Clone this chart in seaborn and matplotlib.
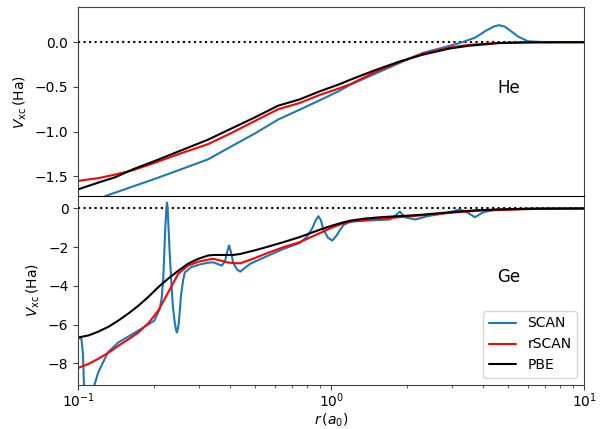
import numpy as np
import pandas as pd
import seaborn as sns
import matplotlib
matplotlib.use('Agg')
import matplotlib.pyplot as plt

# He values
r_he = [0.1, 0.12, 0.14, 0.165, 0.2, 0.25, 0.326, 0.4, 0.5, 0.617, 0.75, 0.9,
        1.067, 1.19, 1.5, 1.87, 2.3, 2.95, 3.5, 4.6, 6.0, 8.0, 10.0]
pbe_he = [-1.645, -1.57, -1.51, -1.42, -1.33, -1.22, -1.09, -0.97, -0.84, -0.71, -0.64, -0.55,
          -0.475, -0.42, -0.31, -0.215, -0.14, -0.07, -0.04, -0.01, -0.003, 0.0, 0.0]
rscan_he = [-1.55, -1.52, -1.48, -1.43, -1.35, -1.25, -1.14, -1.02, -0.88, -0.75, -0.68, -0.59,
            -0.52, -0.47, -0.33, -0.22, -0.13, -0.06, -0.03, -0.008, 0.0, 0.0, 0.0]
r_he_scan = [0.1, 0.131, 0.2, 0.25, 0.326, 0.4, 0.5, 0.617, 0.75, 0.9, 1.067, 1.19, 1.5,
             1.87, 2.3, 2.95, 3.3, 3.7, 4.1, 4.4, 4.6, 4.85, 5.1, 5.5, 6.0, 7.0, 10.0]
scan_he = [-1.86, -1.71, -1.53, -1.43, -1.31, -1.17, -1.02, -0.865, -0.755, -0.65, -0.55, -0.475, -0.35,
           -0.23, -0.12, -0.04, 0.0, 0.05, 0.13, 0.175, 0.19, 0.175, 0.13, 0.06, 0.01, 0.0, 0.0]

# Ge values
r_ge = [0.1, 0.11, 0.12, 0.132, 0.144, 0.158, 0.173, 0.19, 0.207, 0.227, 0.249, 0.272, 0.298,
        0.326, 0.342, 0.37, 0.387, 0.41, 0.437, 0.478, 0.49, 0.56, 0.647, 0.75, 0.9, 1.0, 1.1,
        1.19, 1.35, 1.57, 1.9, 2.25, 2.7, 3.2, 3.8, 4.64, 6.5, 10.0]
pbe_ge = [-6.66, -6.55, -6.36, -6.1, -5.79, -5.42, -5.02, -4.55, -4.07, -3.62, -3.21, -2.85, -2.6,
          -2.43, -2.4, -2.4, -2.4, -2.4, -2.35, -2.22, -2.19, -1.98, -1.74, -1.48, -1.1, -0.9, -0.74,
          -0.63, -0.53, -0.45, -0.39, -0.33, -0.24, -0.16, -0.09, -0.05, -0.01, 0.0]
rscan_ge = [-8.23, -8.02, -7.76, -7.44, -7.09, -6.75, -6.4, -5.9, -5.28, -4.33, -3.36, -2.95, -2.75,
            -2.64, -2.6, -2.7, -2.78, -2.82, -2.83, -2.65, -2.6, -2.3, -2.0, -1.74, -1.28, -1.0, -0.8,
            -0.68, -0.6, -0.53, -0.44, -0.36, -0.27, -0.19, -0.12, -0.08, -0.02, 0.0]
r_ge_scan = [0.1, 0.103, 0.1045, 0.106, 0.11, 0.113, 0.116, 0.12, 0.131, 0.144, 0.173, 0.2, 0.21,
             0.214, 0.217, 0.219, 0.221, 0.223, 0.2245, 0.226, 0.227, 0.23, 0.234, 0.237, 0.241, 0.244,
             0.246, 0.248, 0.25, 0.255, 0.26, 0.264, 0.28, 0.3, 0.326, 0.342, 0.37, 0.381, 0.388,
             0.395, 0.402, 0.41, 0.425, 0.437, 0.478, 0.56, 0.647, 0.75, 0.8, 0.84, 0.87, 0.89, 0.91,
             0.93, 0.97, 1.01, 1.05, 1.08, 1.12, 1.19, 1.4, 1.71, 1.8, 1.87, 1.95, 2.15, 2.4, 2.8,
             3.02, 3.2, 3.4, 3.7, 4.0, 4.5, 6.0, 10.0]
scan_ge = [-6.66, -6.72, -7.5, -10.0, -12.0, -11.0, -9.1, -8.47, -7.43, -6.92, -6.3, -5.79, -5.2,
           -4.6, -3.6, -2.3, -1.04, -0.1, 0.3, -0.1, -0.6, -2.3, -4.0, -5.1, -5.9, -6.3,
           -6.4, -6.2, -5.9, -4.5, -3.7, -3.3, -3.03, -2.9, -2.8, -2.78, -2.95, -2.7, -2.25,
           -1.91, -2.25, -2.8, -3.15, -3.26, -2.86, -2.45, -2.09, -1.79, -1.48, -1.05, -0.6, -0.4, -0.6,
           -1.05, -1.5, -1.66, -1.4, -1.14, -0.85, -0.68, -0.62, -0.57, -0.35, -0.16, -0.45, -0.57, -0.4, -0.25,
           -0.16, -0.05, -0.16, -0.45, -0.19, -0.05, -0.01, 0.0]

sns.set_style('ticks', {'axes.edgecolor': '.25', 'xtick.color': '.25', 'ytick.color': '.25',
                        'text.color': 'black', 'axes.labelcolor': 'black'})
plt.rcParams['font.family'] = ['DejaVu Sans']
plt.rcParams.update({'axes.linewidth': 0.8, 'xtick.major.size': 3.5, 'ytick.major.size': 3.5,
                     'xtick.minor.size': 2, 'xtick.major.pad': 1.5, 'ytick.major.pad': 3.5,
                     'xtick.labelcolor': 'black', 'ytick.labelcolor': 'black'})

fig, axes = plt.subplots(nrows=2, ncols=1, figsize=(6.01, 4.29), dpi=100, sharex=True,
                         gridspec_kw={'hspace': 0})
fig.subplots_adjust(left=0.13, right=0.972, top=0.983, bottom=0.103)

panels = [
    (axes[0], r_he_scan, scan_he, r_he, rscan_he, pbe_he, 'He', -0.51),
    (axes[1], r_ge_scan, scan_ge, r_ge, rscan_ge, pbe_ge, 'Ge', -3.53),
]
for ax, rs, scan, r, rscan, pbe, name, ty in panels:
    ax.axhline(0, color='black', ls=':', lw=1.5)
    sns.lineplot(x=rs, y=scan, ax=ax, color='#1f77b4', lw=1.5, sort=False, estimator=None, label='SCAN')
    sns.lineplot(x=r, y=rscan, ax=ax, color='red', lw=1.5, sort=False, estimator=None, label='rSCAN')
    sns.lineplot(x=r, y=pbe, ax=ax, color='black', lw=1.5, sort=False, estimator=None, label='PBE')
    ax.set_xscale('log')
    ax.set_ylabel(r'$V_{\rm xc}\,$(Ha)')
    ax.text(4.53, ty, name, fontsize=12, ha='left', va='center')

axes[0].set_ylim(-1.72, 0.39)
axes[0].set_yticks([0.0, -0.5, -1.0, -1.5])
axes[0].set_yticklabels(['0.0', '\u22120.5', '\u22121.0', '\u22121.5'])
axes[0].tick_params(axis='x', which='both', bottom=False, labelbottom=False)
axes[0].spines['bottom'].set_visible(False)
axes[0].get_legend().remove()

axes[1].set_ylim(-9.1, 0.64)
axes[1].set_yticks([0, -2, -4, -6, -8])
axes[1].set_xlim(0.1, 10)
axes[1].spines['top'].set_color('black')
axes[1].set_xlabel(r'$r\,(a_0)$', labelpad=1)
axes[1].legend(loc='lower right')

plt.savefig('out.png', dpi=100)
